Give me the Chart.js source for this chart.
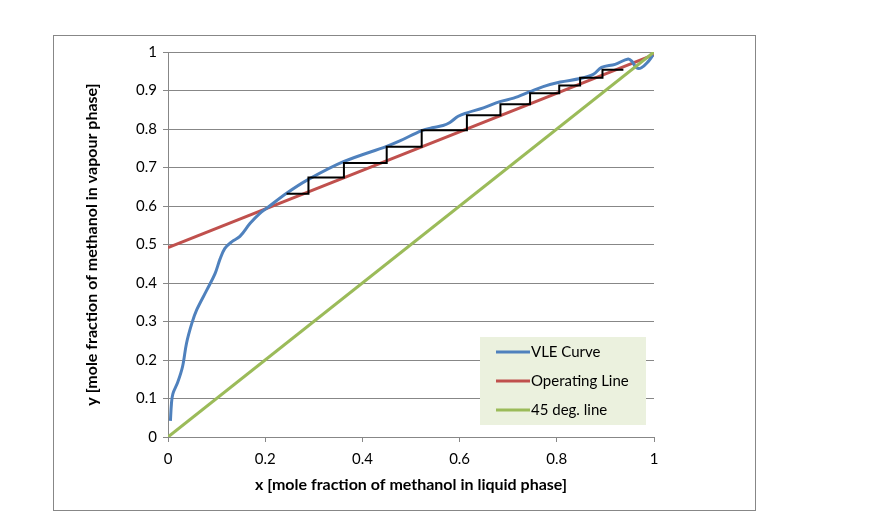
<!DOCTYPE html>
<html>
<head>
<meta charset="utf-8">
<script src="https://cdn.jsdelivr.net/npm/chart.js@4"></script>
<style>
html,body{margin:0;padding:0;background:#fff;}
#wrap{width:882px;height:524px;position:relative;}
</style>
</head>
<body>
<div id="wrap"><canvas id="c" width="882" height="524"></canvas></div>
<script>
// ---- data ----
const vleX = [0.005,0.007,0.010,0.020,0.030,0.038,0.049,0.059,0.080,0.097,0.107,0.117,0.131,0.148,0.169,0.189,0.203,0.244,0.289,0.361,0.450,0.477,0.522,0.546,0.566,0.580,0.597,0.615,0.649,0.683,0.711,0.745,0.772,0.807,0.848,0.875,0.892,0.920,0.947,0.955,0.964,0.974,0.988,0.998];
const vleY = [0.042,0.085,0.112,0.142,0.183,0.243,0.295,0.330,0.382,0.425,0.462,0.490,0.507,0.521,0.555,0.581,0.594,0.633,0.669,0.715,0.755,0.769,0.796,0.804,0.809,0.817,0.833,0.842,0.855,0.871,0.880,0.897,0.910,0.922,0.931,0.942,0.960,0.968,0.982,0.975,0.959,0.959,0.975,0.992];
const opX = [0, 1];
const opY = [0.492, 0.993];
const diagX = [0, 1];
const diagY = [0, 1];
const stairsX = [0.244,0.289,0.289,0.362,0.362,0.450,0.450,0.522,0.522,0.615,0.615,0.684,0.684,0.745,0.745,0.805,0.805,0.848,0.848,0.894,0.894,0.937];
const stairsY = [0.632,0.632,0.674,0.674,0.712,0.712,0.754,0.754,0.797,0.797,0.836,0.836,0.864,0.864,0.893,0.893,0.913,0.913,0.933,0.933,0.954,0.954];
const seriesNames = ['VLE Curve', 'Operating Line', '45 deg. line'];
const xTitle = 'x [mole fraction of methanol in liquid phase]';
const yTitle = 'y [mole fraction of methanol in vapour phase]';

const pts = (xs, ys) => xs.map((x, i) => ({x: x, y: ys[i]}));
const colors = ['#4F81BD', '#C0504D', '#9BBB59'];
const FONT = 'Lato, "Noto Sans", sans-serif';
const fmt = v => String(Math.round(v * 10) / 10);

const bgBorder = {
  id: 'bgBorder',
  beforeDraw(chart) {
    const ctx = chart.ctx;
    ctx.save();
    ctx.fillStyle = '#fff';
    ctx.fillRect(0, 0, chart.width, chart.height);
    ctx.strokeStyle = '#878787';
    ctx.lineWidth = 1;
    ctx.strokeRect(53.5, 35.5, 702, 475);
    ctx.restore();
  }
};

const legendBox = {
  id: 'legendBox',
  afterDatasetsDraw(chart) {
    const ctx = chart.ctx;
    const a = chart.chartArea;
    const left = a.left + 312, top = a.top + 285, w = 166, h = 88;
    ctx.save();
    ctx.fillStyle = '#EBF1DE';
    ctx.fillRect(left, top, w, h);
    ctx.font = '15px ' + FONT;
    ctx.textBaseline = 'middle';
    ctx.fillStyle = '#000';
    seriesNames.forEach((name, i) => {
      const yy = top + 15 + i * 29;
      ctx.strokeStyle = colors[i];
      ctx.lineWidth = 3;
      ctx.beginPath();
      ctx.moveTo(left + 16, yy);
      ctx.lineTo(left + 50, yy);
      ctx.stroke();
      ctx.fillText(name, left + 51, yy);
    });
    ctx.restore();
  }
};

new Chart(document.getElementById('c'), {
  type: 'scatter',
  data: {
    datasets: [
      {label: 'stairs', data: pts(stairsX, stairsY), showLine: true, borderColor: '#000', borderWidth: 2, pointRadius: 0, tension: 0, order: 0},
      {label: seriesNames[2], data: pts(diagX, diagY), showLine: true, borderColor: colors[2], borderWidth: 3, pointRadius: 0, order: 1},
      {label: seriesNames[0], data: pts(vleX, vleY), showLine: true, borderColor: colors[0], borderWidth: 3, pointRadius: 0, tension: 0.35, order: 2},
      {label: seriesNames[1], data: pts(opX, opY), showLine: true, borderColor: colors[1], borderWidth: 3, pointRadius: 0, order: 3}
    ]
  },
  options: {
    responsive: false,
    animation: false,
    devicePixelRatio: 1,
    layout: {padding: {left: 82, right: 228, top: 52, bottom: 30}},
    plugins: {legend: {display: false}, tooltip: {enabled: false}},
    scales: {
      x: {
        type: 'linear', min: 0, max: 1,
        afterFit(s) { s.height = 57; },
        ticks: {stepSize: 0.2, color: '#000', font: {family: FONT, size: 15}, padding: 8, maxRotation: 0, callback: fmt},
        grid: {drawOnChartArea: false, drawTicks: true, tickLength: 5, color: '#878787'},
        border: {display: true, color: '#878787'},
        title: {display: true, text: xTitle, color: '#000', font: {family: FONT, size: 16, weight: 'bold'}, padding: {top: 4, bottom: 0}}
      },
      y: {
        type: 'linear', min: 0, max: 1,
        afterFit(s) { s.width = 86; },
        ticks: {stepSize: 0.1, color: '#000', font: {family: FONT, size: 15}, padding: 6, callback: fmt},
        grid: {color: '#878787', tickLength: 5},
        border: {display: true, color: '#878787'},
        title: {display: true, text: yTitle, color: '#000', font: {family: FONT, size: 16, weight: 'bold'}, padding: {top: 0, bottom: 10}}
      }
    }
  },
  plugins: [bgBorder, legendBox]
});
</script>
</body>
</html>
